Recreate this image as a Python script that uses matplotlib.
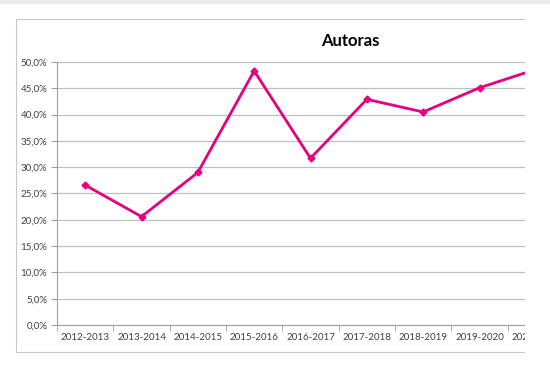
import matplotlib.pyplot as plt
import matplotlib.patches as mpatches
import numpy as np

cursos = ['2012-2013', '2013-2014', '2014-2015', '2015-2016', '2016-2017',
          '2017-2018', '2018-2019', '2019-2020', '2020-2021']
autoras = [26.6, 20.6, 29.0, 48.3, 31.7, 42.9, 40.5, 45.1, 48.6]

W, H = 550, 371
fig = plt.figure(figsize=(W / 100, H / 100), dpi=100)
plt.rcParams['font.family'] = ['Lato', 'DejaVu Sans']

# plot area in pixels: x 57..564 (cut off by screenshot), y 62..325
ax = fig.add_axes([57 / W, 1 - 325 / H, 507 / W, 263 / H])

x = np.arange(len(cursos))
ax.plot(x, np.array(autoras) / 100, color='#e6007e', lw=2.0,
        marker='D', ms=3.5, zorder=3)

ax.set_xlim(-0.5, len(cursos) - 0.5)
ax.set_ylim(0, 0.5)
ax.set_yticks(np.arange(0, 0.501, 0.05))
ax.set_yticklabels([f'{v * 100:.1f}%'.replace('.', ',') for v in np.arange(0, 0.501, 0.05)])
ax.set_xticks(x)
ax.set_xticklabels(cursos)
ax.set_xticks(np.arange(-0.5, len(cursos)), minor=True)
ax.tick_params(axis='x', which='major', length=0, pad=6, labelsize=7, colors='#404040')
ax.tick_params(axis='x', which='minor', length=4, color='#a0a0a0')
ax.tick_params(axis='y', length=4, color='#a0a0a0', labelsize=7, colors='#404040', pad=3)
ax.tick_params(axis='y', colors='#a0a0a0', labelcolor='#404040')

ax.grid(axis='y', color='#c0c0c0', lw=0.9)
ax.set_axisbelow(True)
for s in ['top', 'right']:
    ax.spines[s].set_visible(False)
ax.spines['left'].set_color('#a0a0a0')
ax.spines['bottom'].set_color('#a0a0a0')

fig.text(350 / W, 1 - 41 / H, 'Autoras', ha='center', va='center',
         fontsize=12, fontweight='bold', color='black')

# chart frame
fig.add_artist(mpatches.Rectangle((16 / W, 1 - 352 / H), 600 / W, 333 / H,
                                  transform=fig.transFigure, fill=False,
                                  ec='#c8c8c8', lw=0.8, zorder=5))
# screenshot cut on the right
fig.add_artist(mpatches.Rectangle((525 / W, 0), 30 / W, 1,
                                  transform=fig.transFigure, fc='white',
                                  ec='none', zorder=10))
# top bar of the screenshot
fig.add_artist(mpatches.Rectangle((0, 1 - 4 / H), 1, 4 / H,
                                  transform=fig.transFigure, fc='#ececec',
                                  ec='none', zorder=10))

fig.savefig('out.png', dpi=100)
